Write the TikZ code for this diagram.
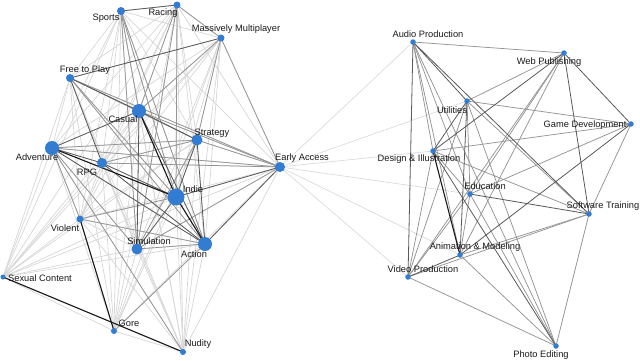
\documentclass[tikz,border=0pt]{standalone}
\usepackage{fontspec}
\setmainfont{Liberation Sans}
\pgfdeclarelayer{edges}
\pgfsetlayers{edges,main}
\definecolor{dotblue}{RGB}{50,125,210}
\definecolor{txt}{RGB}{26,26,26}
\begin{document}
\begin{tikzpicture}[x=1pt,y=-1pt,
  dot/.style={circle,fill=dotblue,draw=none,inner sep=0pt,minimum size=#1},
  lbl/.style={font=\fontsize{9.3}{10}\selectfont,text=txt,inner sep=0pt,anchor=center},
  el/.style={draw=black!16,line width=0.7pt},
  em/.style={draw=black!42,line width=0.75pt},
  ed/.style={draw=black!65,line width=0.8pt},
  ek/.style={draw=black!90,line width=1.1pt},
  ex/.style={draw=black!14,line width=0.7pt}]
\useasboundingbox (0,0) rectangle (640,360);
% left cluster dots
\node[dot=8pt]  (sp)  at (121,11)  {};
\node[dot=7pt]  (ra)  at (177,5)   {};
\node[dot=7pt]  (mm)  at (221,38)  {};
\node[dot=8pt]  (ftp) at (70,78)   {};
\node[dot=14pt] (cas) at (139,111) {};
\node[dot=11pt] (str) at (197,140) {};
\node[dot=14pt] (adv) at (52,148)  {};
\node[dot=10pt] (rpg) at (102,163) {};
\node[dot=10pt] (ea)  at (280,167) {};
\node[dot=17pt] (ind) at (176,197) {};
\node[dot=7pt]  (vio) at (80,219)  {};
\node[dot=11pt] (sim) at (137,249) {};
\node[dot=14pt] (act) at (205,244) {};
\node[dot=5pt]  (sex) at (3,277)   {};
\node[dot=6pt]  (gor) at (114,331) {};
\node[dot=6pt]  (nud) at (183,352) {};
% right cluster dots
\node[dot=5.5pt] (ap) at (413,42)  {};
\node[dot=5.5pt] (wp) at (564,53)  {};
\node[dot=5.5pt] (ut) at (467,101) {};
\node[dot=5.5pt] (gd) at (631,124) {};
\node[dot=5.5pt] (di) at (433,151) {};
\node[dot=5.5pt] (edu) at (470,194) {};
\node[dot=5.5pt] (st) at (589,214) {};
\node[dot=5.5pt] (am) at (460,255) {};
\node[dot=5.5pt] (vp) at (408,277) {};
\node[dot=5.5pt] (pe) at (556,346) {};
% labels
\node[lbl] (lsp)  at (106,18)  {Sports};
\node[lbl] (lra)  at (163,13)  {Racing};
\node[lbl] (lmm)  at (236,29)  {Massively Multiplayer};
\node[lbl] (lftp) at (85,70)   {Free to Play};
\node[lbl] (lcas) at (123,119) {Casual};
\node[lbl] (lstr) at (212,133) {Strategy};
\node[lbl] (ladv) at (37,157)  {Adventure};
\node[lbl] (lrpg) at (87,172)  {RPG};
\node[lbl] (lea)  at (302,158) {Early Access};
\node[lbl] (lind) at (193,189) {Indie};
\node[lbl] (lvio) at (65,228)  {Violent};
\node[lbl] (lsim) at (149,241) {Simulation};
\node[lbl] (lact) at (194,254) {Action};
\node[lbl] (lsex) at (40,278)  {Sexual Content};
\node[lbl] (lgor) at (129,323) {Gore};
\node[lbl] (lnud) at (198,344) {Nudity};
\node[lbl] (lap)  at (428,34)  {Audio Production};
\node[lbl] (lwp)  at (549,62)  {Web Publishing};
\node[lbl] (lut)  at (452,110) {Utilities};
\node[lbl] (lgd)  at (585,125) {Game Development};
\node[lbl] (ldi)  at (419,159) {Design \& Illustration};
\node[lbl] (led)  at (485,186) {Education};
\node[lbl] (lst)  at (603,206) {Software Training};
\node[lbl] (lam)  at (475,247) {Animation \& Modeling};
\node[lbl] (lvp)  at (423,269) {Video Production};
\node[lbl] (lpe)  at (541,355) {Photo Editing};
\begin{pgfonlayer}{edges}
% left cluster: light base network
\foreach \a [count=\i] in {sp,ra,mm,ftp,cas,str,adv,rpg,ea,ind,vio,sim,act,sex,gor,nud}{
  \foreach \b [count=\j] in {sp,ra,mm,ftp,cas,str,adv,rpg,ea,ind,vio,sim,act,sex,gor,nud}{
    \ifnum\j>\i\relax \draw[el] (\a.center) -- (\b.center);\fi
  }
}
% medium
\foreach \a/\b in {ra/mm,adv/str,adv/ea,str/ea,sim/act,sim/ea,rpg/str,ftp/str,ftp/ea,ftp/ind,sim/str,vio/ind,vio/adv,sp/sim,sp/cas,ra/cas,mm/ea,cas/ea,sp/ind,ra/ind,mm/str,sp/act,ra/sim,mm/cas,ftp/act,adv/sim,vio/act,rpg/ea,gor/act,nud/adv}
  \draw[em] (\a.center) -- (\b.center);
% dark
\foreach \a/\b in {sp/ra,ftp/mm,ftp/cas,cas/str,cas/act,cas/sim,adv/cas,adv/rpg,adv/act,rpg/ind,rpg/act,ind/str,ind/sim,str/act,ftp/rpg,ea/ind,ea/act}
  \draw[ed] (\a.center) -- (\b.center);
% strongest
\foreach \a/\b in {cas/ind,ind/act,adv/ind,vio/gor,sex/nud}
  \draw[ek] (\a.center) -- (\b.center);
% bridge from Early Access
\foreach \b in {ap,ut,di,edu,am,vp}
  \draw[ex] (ea.center) -- (\b.center);
% right cluster
\foreach \a/\b in {ap/wp,ap/di,ap/edu,ap/am,ap/pe,wp/ut,wp/edu,wp/am,wp/vp,ut/gd,ut/edu,ut/vp,ut/st,ut/pe,gd/di,gd/edu,gd/st,di/edu,di/vp,di/st,edu/am,edu/vp,edu/pe,st/am,st/vp,st/pe,am/pe,vp/pe}
  \draw[em] (\a.center) -- (\b.center);
\foreach \a/\b in {ap/ut,ap/vp,ap/st,wp/di,wp/gd,wp/st,ut/di,ut/am,gd/am,di/pe,edu/st,am/vp}
  \draw[ed] (\a.center) -- (\b.center);
\draw[ek] (di.center) -- (am.center);
\end{pgfonlayer}
\end{tikzpicture}
\end{document}
